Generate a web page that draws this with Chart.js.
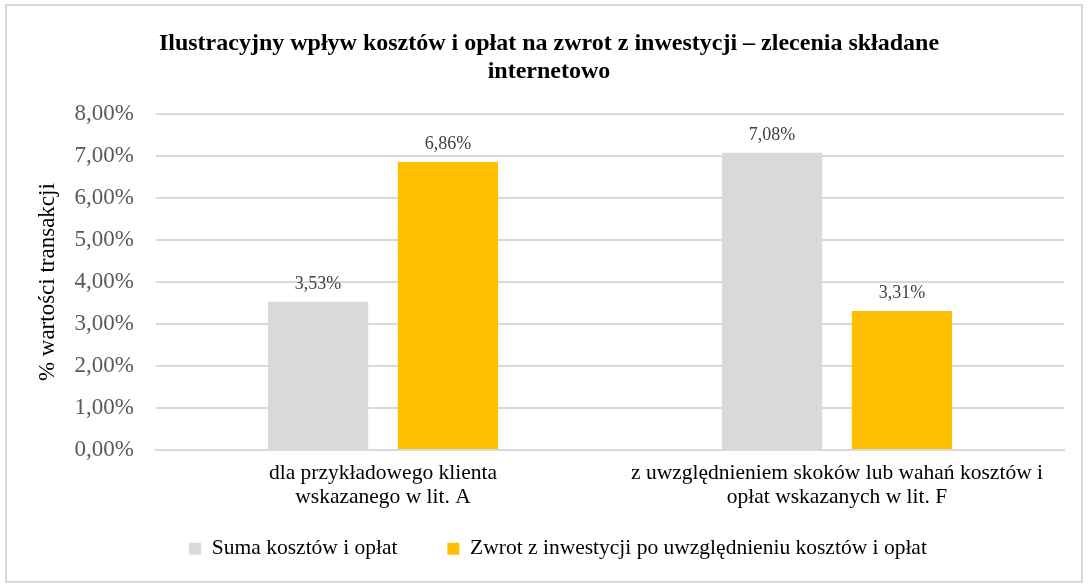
<!DOCTYPE html>
<html>
<head>
<meta charset="utf-8">
<script src="https://cdn.jsdelivr.net/npm/chart.js@4/dist/chart.umd.min.js"></script>
<style>
  html, body { margin: 0; padding: 0; background: #fff; }
  #ramka {
    position: absolute; left: 5px; top: 4px;
    width: 1074px; height: 575px;
    border: 2px solid #d9d9d9; background: #fff;
  }
</style>
</head>
<body>
<div id="ramka"><canvas id="wykres"></canvas></div>
<script>
/* dane wykresu */
const kategorie = [
	["dla przykładowego klienta", "wskazanego w lit. A"],
	["z uwzględnieniem skoków lub wahań kosztów i", "opłat wskazanych w lit. F"]
];
const sumaKosztow = [3.53, 7.08];
const zwrotInwestycji = [6.86, 3.31];
const tytul = ["Ilustracyjny wpływ kosztów i opłat na zwrot z inwestycji – zlecenia składane", "internetowo"];

const fmt = (v) => v.toFixed(2).replace(".", ",") + "%";

// etykiety nad słupkami
const etykietyPlugin = {
	id: "etykiety",
	afterDatasetsDraw(chart) {
		const ctx = chart.ctx;
		ctx.save();
		ctx.font = "18px 'Liberation Serif'";
		ctx.fillStyle = "#404040";
		ctx.textAlign = "center";
		ctx.textBaseline = "bottom";
		chart.data.datasets.forEach((ds, i) => {
			chart.getDatasetMeta(i).data.forEach((bar, j) => {
				ctx.fillText(fmt(ds.data[j]), bar.x, bar.y - 9);
			});
		});
		ctx.restore();
	}
};

// legenda lekko przesunięta w prawo (jak w Excelu)
const przesunLegende = {
	id: "przesunLegende",
	afterLayout(chart) {
		chart.legend.left += 9;
		chart.legend.right += 9;
	}
};

const G4 = document.getElementById("wykres").getContext("2d");
let wykres = new Chart(G4, {
	type: "bar",
	data: {
		labels: kategorie,
		datasets: [
			{
				label: "Suma kosztów i opłat",
				data: sumaKosztow,
				backgroundColor: "#d9d9d9",
				barPercentage: 0.772,
				categoryPercentage: 0.572,
			},
			{
				label: "Zwrot z inwestycji po uwzględnieniu kosztów i opłat",
				data: zwrotInwestycji,
				backgroundColor: "#ffc000",
				barPercentage: 0.772,
				categoryPercentage: 0.572,
			}
		],
	},
	plugins: [etykietyPlugin, przesunLegende],
	options: {
		responsive: true,
		maintainAspectRatio: false,
		animation: false,
		layout: { padding: { left: 27, right: 17, top: 4, bottom: 11.5 } },
		scales: {
			y: {
				min: 0,
				max: 8,
				ticks: {
					stepSize: 1,
					color: "#595959",
					font: { family: "'Liberation Serif'", size: 23 },
					padding: 22,
					callback: (v) => fmt(v),
				},
				grid: { color: "#d9d9d9", lineWidth: 2, drawTicks: false },
				border: { display: false },
				title: {
					display: true,
					text: "% wartości transakcji",
					color: "#000",
					font: { family: "'Liberation Serif'", size: 23 },
					padding: { top: 0, bottom: -9 },
				},
			},
			x: {
				ticks: {
					color: "#000",
					font: { family: "'Liberation Serif'", size: 21.5, lineHeight: 1.08 },
					padding: 12,
				},
				grid: { display: false, drawTicks: false },
				border: { color: "#d9d9d9", width: 2 },
			}
		},
		plugins: {
			title: {
				display: true,
				text: tytul,
				color: "#000",
				font: { family: "'Liberation Serif'", size: 24, weight: "bold", lineHeight: 1.15 },
				padding: { top: 20, bottom: 29 },
			},
			legend: {
				position: "bottom",
				labels: {
					color: "#000",
					font: { family: "'Liberation Serif'", size: 21.5 },
					boxWidth: 12,
					boxHeight: 12,
					padding: 17.5,
					// odstęp między pozycjami legendy jak w oryginale
					generateLabels(chart) {
						const items = Chart.defaults.plugins.legend.labels.generateLabels(chart);
						items[0].text += "\u2003\u2002";
						return items;
					}
				}
			},
			tooltip: { enabled: false }
		}
	},
});
</script>
</body>
</html>
